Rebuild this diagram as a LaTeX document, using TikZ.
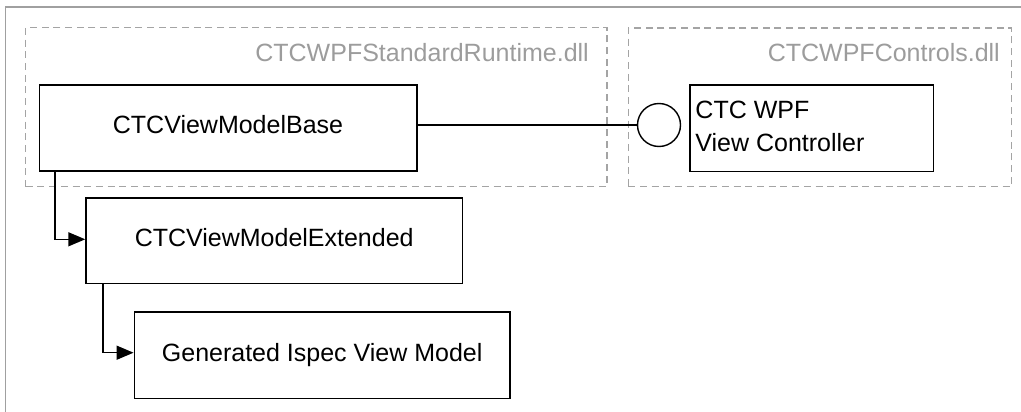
\documentclass[tikz,border=0pt]{standalone}
\usepackage{fontspec}
\setmainfont{Liberation Sans}
\usetikzlibrary{arrows.meta,calc}
\definecolor{framegray}{HTML}{A0A0A0}
\definecolor{dashgray}{HTML}{A4A4A4}
\definecolor{labelgray}{HTML}{9C9C9C}
\tikzset{
  txt/.style={font=\fontsize{25}{32.3}\selectfont},
  classbox/.style={draw=black, line width=1.6pt, fill=white, inner sep=0pt,
    txt, text height=16pt, text depth=4pt},
  dllbox/.style={draw=dashgray, line width=1.3pt, dash pattern=on 7pt off 4.7pt, inner sep=0pt},
  dlllabel/.style={txt, text=labelgray, inner sep=0pt, anchor=base east},
  conn/.style={draw=black, line width=1.5pt},
  inh/.style={conn, -{Triangle[length=17pt,width=14pt]}},
}
\begin{document}
\begin{tikzpicture}[x=1pt,y=-1pt]
\useasboundingbox (0,0) rectangle (1021,412);
% outer frame
\draw[framegray, line width=1.5pt] (5.5,412) -- (5.5,7) -- (1021,7);
% dll containers
\node[dllbox, minimum width=581.3pt, minimum height=159pt] (d1) at (316.35,107) {};
\node[dllbox, minimum width=383.4pt, minimum height=158.5pt] (d2) at (820,107.25) {};
\node[dlllabel] (l1) at (589,62) {CTCWPFStandardRuntime.dll};
\node[dlllabel] (l2) at (1000,62) {CTCWPFControls.dll};
% classes
\node[classbox, minimum width=377.4pt, minimum height=85.7pt] (b1) at (228,127.9) {CTCViewModelBase};
\node[classbox, minimum width=376.3pt, minimum height=85.6pt] (b2) at (274.2,240.5) {CTCViewModelExtended};
\node[classbox, minimum width=375.7pt, minimum height=86.3pt] (b3) at (322.2,355.2) {Generated Ispec View Model};
\node[draw=black, line width=1.6pt, fill=white, inner sep=0pt, minimum width=243.3pt, minimum height=86.7pt] (b4) at (811.7,128.3) {};
\node[txt, anchor=north west, align=left, inner sep=0pt] (b4t) at ($(b4.north west)+(6,17)$) {CTC WPF\\View Controller};
% interface lollipop
\node[draw=black, line width=1.4pt, circle, minimum size=43pt, inner sep=0pt] (iface) at (659,125) {};
\draw[conn] (b1.east |- iface.west) -- (iface.west);
% inheritance connectors
\draw[inh] ($(b1.south west)+(16.4,0)$) |- ($(b2.west)+(0,-1.2)$);
\draw[inh] ($(b2.south west)+(17.7,0)$) |- ($(b3.west)+(0,-2.5)$);
\end{tikzpicture}
\end{document}
